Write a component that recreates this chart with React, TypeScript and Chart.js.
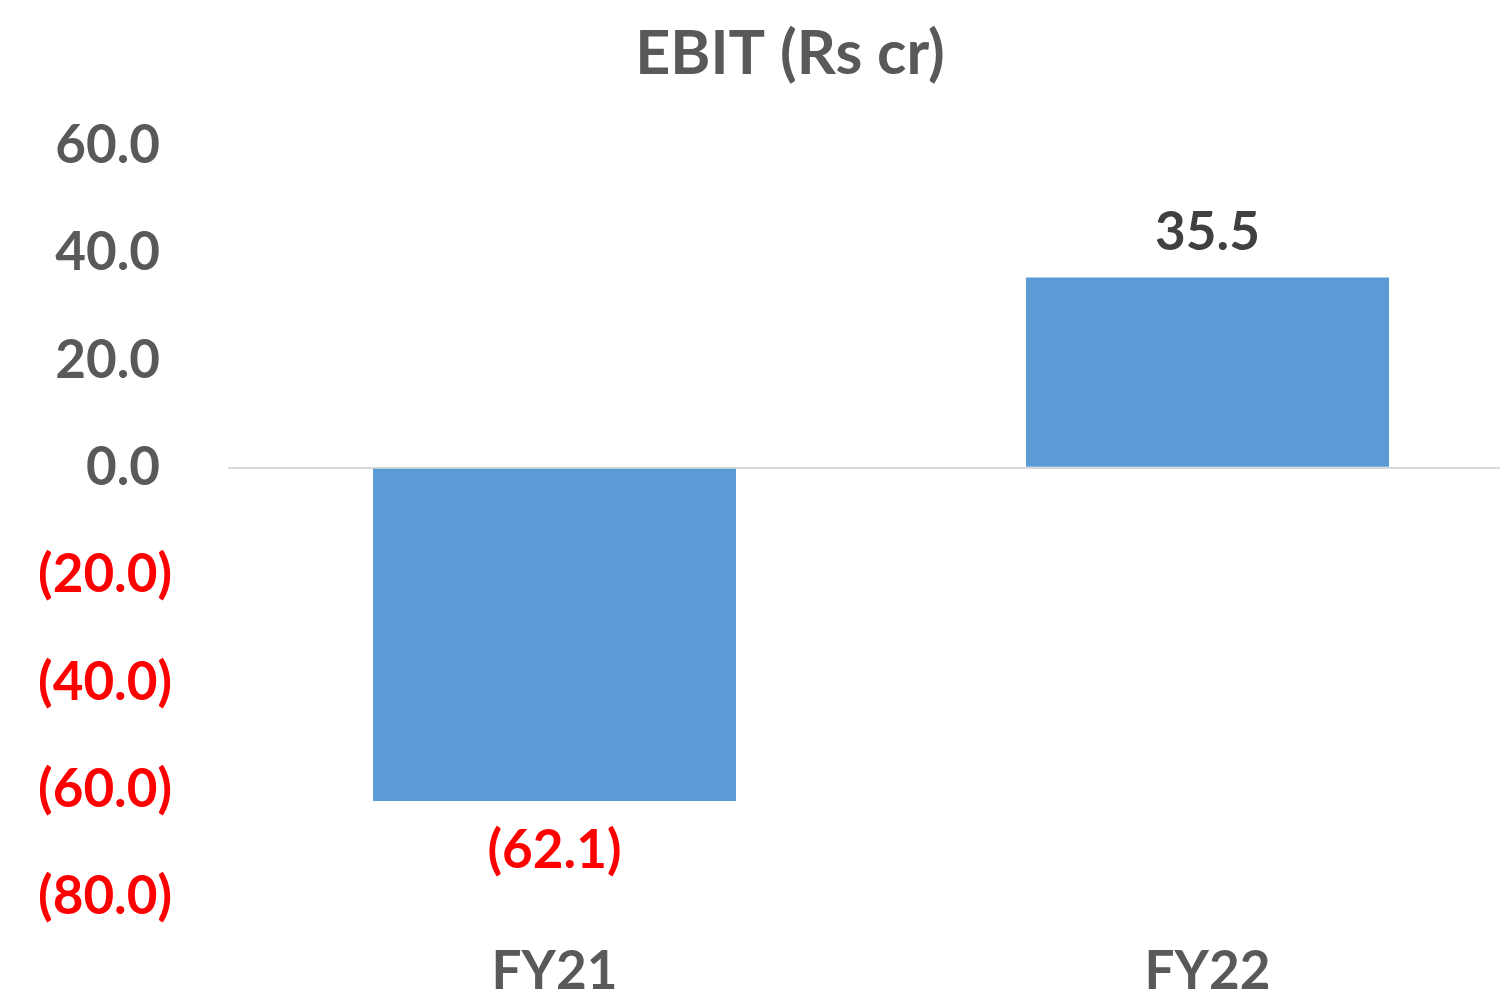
import React, { useEffect, useRef } from "react";
import { Chart, registerables } from "chart.js";

Chart.register(...registerables);

const categories = ["FY21", "FY22"];
const ebitValues = [-62.1, 35.5];
const yMin = -80;
const yMax = 60;
const yStep = 20;
const titleText = "EBIT (Rs cr)";

const FONT = "Lato, 'Open Sans', sans-serif";
const GRAY = "#595959";
const RED = "#FF0000";

const fmt = (v: number) => (v < 0 ? `(${Math.abs(v).toFixed(1)})` : v.toFixed(1));

const overlayPlugin = {
  id: "overlay",
  afterDraw(chart: any) {
    const ctx = chart.ctx;
    ctx.save();
    // title
    ctx.font = `bold 61px ${FONT}`;
    ctx.fillStyle = GRAY;
    ctx.textAlign = "center";
    ctx.textBaseline = "middle";
    ctx.fillText(titleText, chart.width / 2, 54);
    // y tick labels
    const ys = chart.scales.y;
    ctx.font = `bold 53px ${FONT}`;
    ctx.textBaseline = "middle";
    for (let v = yMin; v <= yMax; v += yStep) {
      const py = ys.getPixelForValue(v);
      ctx.textAlign = "right";
      if (v < 0) {
        ctx.fillStyle = RED;
        ctx.fillText(fmt(v), 172, py);
      } else {
        ctx.fillStyle = GRAY;
        ctx.fillText(fmt(v), 160, py);
      }
    }
    // data labels
    const meta = chart.getDatasetMeta(0);
    meta.data.forEach((bar: any, i: number) => {
      const v = ebitValues[i];
      ctx.textAlign = "center";
      ctx.textBaseline = "middle";
      if (v < 0) {
        ctx.fillStyle = RED;
        ctx.fillText(fmt(v), bar.x, bar.y + 50);
      } else {
        ctx.fillStyle = "#404040";
        ctx.fillText(fmt(v), bar.x, bar.y - 45);
      }
    });
    ctx.restore();
  },
};

export default function App() {
  const ref = useRef<HTMLCanvasElement | null>(null);
  useEffect(() => {
    if (!ref.current) return;
    const chart = new Chart(ref.current, {
      type: "bar",
      data: {
        labels: categories,
        datasets: [
          {
            data: ebitValues,
            backgroundColor: "#5B9BD5",
            borderWidth: 0,
            barPercentage: 1,
            categoryPercentage: 0.556,
          },
        ],
      },
      options: {
        animation: false,
        responsive: false,
        devicePixelRatio: 1,
        layout: { padding: { top: 146, left: 0, right: 46, bottom: 0 } },
        plugins: { legend: { display: false }, tooltip: { enabled: false }, title: { display: false } },
        scales: {
          x: {
            grid: { display: false },
            border: { display: false },
            ticks: {
              color: GRAY,
              font: { family: FONT, size: 53, weight: "bold" },
              padding: 35,
            },
            afterFit: (s: any) => {
              s.height = 100;
            },
          },
          y: {
            min: yMin,
            max: yMax,
            ticks: { stepSize: yStep, display: false },
            grid: {
              drawTicks: false,
              color: (c: any) => (c.tick && c.tick.value === 0 ? "#D9D9D9" : "rgba(0,0,0,0)"),
              lineWidth: 2,
            },
            border: { display: false },
            afterFit: (s: any) => {
              s.width = 228;
            },
          },
        },
      },
      plugins: [overlayPlugin],
    });
    return () => chart.destroy();
  }, []);
  return (
    <div
      style={{
        position: "fixed",
        top: 0,
        left: 0,
        width: 1500,
        height: 997,
        overflow: "hidden",
        background: "#fff",
      }}
    >
      <canvas ref={ref} width={1580} height={997} style={{ display: "block" }} />
    </div>
  );
}
